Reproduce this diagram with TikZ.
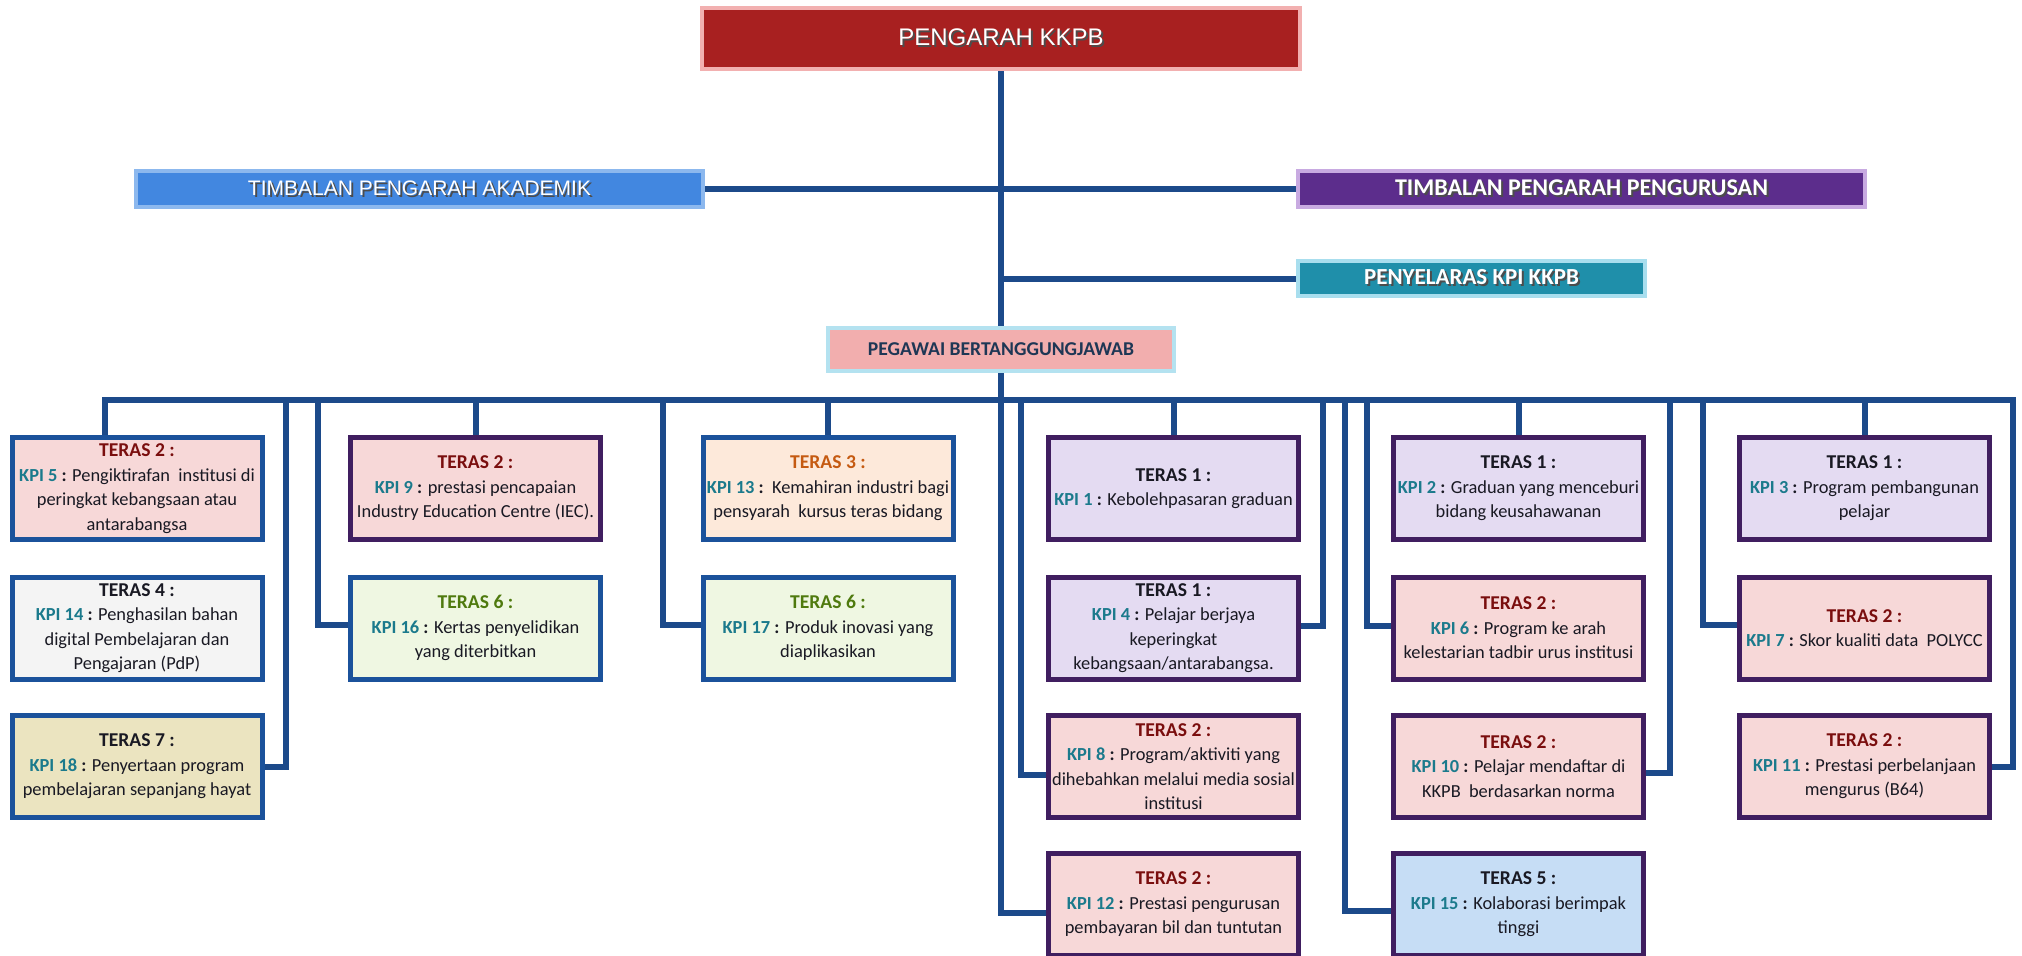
\documentclass[tikz,border=0pt]{standalone}
\usepackage{fontspec}
\setmainfont{Carlito}
\newfontfamily\arialf{Liberation Sans}
\definecolor{conn}{RGB}{28,74,138}
\definecolor{bblue}{RGB}{27,82,155}
\definecolor{bpurp}{RGB}{64,30,96}
\definecolor{fpink}{RGB}{247,216,216}
\definecolor{flav}{RGB}{228,219,242}
\definecolor{fgreen}{RGB}{239,247,226}
\definecolor{fpeach}{RGB}{253,233,218}
\definecolor{fgrey}{RGB}{244,244,244}
\definecolor{ftan}{RGB}{235,228,192}
\definecolor{fsky}{RGB}{198,221,245}
\definecolor{tred}{RGB}{122,14,14}
\definecolor{torange}{RGB}{197,90,17}
\definecolor{tgreen}{RGB}{79,122,14}
\definecolor{tteal}{RGB}{27,122,140}
\definecolor{tdark}{RGB}{25,25,35}
\definecolor{hred}{RGB}{168,32,32}
\definecolor{hredb}{RGB}{242,176,176}
\definecolor{hblue}{RGB}{66,135,224}
\definecolor{hblueb}{RGB}{140,184,238}
\definecolor{hpurp}{RGB}{92,45,140}
\definecolor{hpurpb}{RGB}{200,170,225}
\definecolor{hteal}{RGB}{31,143,170}
\definecolor{htealb}{RGB}{168,222,238}
\definecolor{hpink}{RGB}{242,174,174}
\definecolor{hpinkb}{RGB}{180,226,240}
\definecolor{hnavy}{RGB}{30,55,85}
\newcommand\shd[1]{\leavevmode\rlap{\kern1pt\raisebox{-1pt}{\color{black!70}#1}}#1}
\newcommand\ter[2]{{\bfseries\fontsize{9.8pt}{12.25pt}\selectfont\color{#1}#2}}
\newcommand\kpl[1]{{\bfseries\color{tteal}#1} {\bfseries :}}
\tikzset{
  kbox/.style={draw, line width=2.5pt, minimum width=125pt, minimum height=51pt,
    inner sep=0pt, align=center, text=tdark,
    font=\fontsize{9.2pt}{12.25pt}\selectfont},
  bluebox/.style={kbox, draw=bblue},
  purpbox/.style={kbox, draw=bpurp},
  hbox/.style={draw, line width=2pt, inner sep=0pt, align=center, text=white},
  link/.style={draw=conn, line width=3pt}
}
\begin{document}
\begin{tikzpicture}[x=0.5pt, y=-0.5pt]
\useasboundingbox[fill=white] (0,0) rectangle (2022,955);

% headers
\node[hbox, fill=hred, draw=hredb, minimum width=299pt, minimum height=30.5pt,
  font=\arialf\fontsize{12pt}{14pt}\selectfont] (pengarah) at (1001,38.5) {\shd{PENGARAH KKPB}};
\node[hbox, fill=hblue, draw=hblueb, minimum width=283.5pt, minimum height=18pt,
  font=\arialf\fontsize{10.5pt}{12pt}\selectfont] (akademik) at (419.5,189) {\shd{TIMBALAN PENGARAH AKADEMIK}};
\node[hbox, fill=hpurp, draw=hpurpb, minimum width=283.5pt, minimum height=18pt,
  font=\bfseries\fontsize{12pt}{14pt}\selectfont] (pengurusan) at (1581.5,189) {\shd{TIMBALAN PENGARAH PENGURUSAN}};
\node[hbox, fill=hteal, draw=htealb, minimum width=173.5pt, minimum height=17.5pt,
  font=\bfseries\fontsize{11.5pt}{13pt}\selectfont] (penyelaras) at (1471.5,278.5) {\shd{PENYELARAS KPI KKPB}};
\node[hbox, fill=hpink, draw=hpinkb, minimum width=173pt, minimum height=21.5pt, text=hnavy,
  font=\bfseries\fontsize{9.8pt}{12pt}\selectfont] (pegawai) at (1001,349.5) {PEGAWAI BERTANGGUNGJAWAB};

% column 1
\node[bluebox, fill=fpink] (k5) at (137,488.5) {\ter{tred}{TERAS 2 :}\\\kpl{KPI 5} Pengiktirafan\ \ institusi di\\peringkat kebangsaan atau\\antarabangsa};
\node[bluebox, fill=fgrey] (k14) at (137,628) {\ter{tdark}{TERAS 4 :}\\\kpl{KPI 14} Penghasilan bahan\\digital Pembelajaran dan\\Pengajaran (PdP)};
\node[bluebox, fill=ftan] (k18) at (137,766.5) {\ter{tdark}{TERAS 7 :}\\\kpl{KPI 18} Penyertaan program\\pembelajaran sepanjang hayat};
% column 2
\node[purpbox, fill=fpink] (k9) at (475.5,488.5) {\ter{tred}{TERAS 2 :}\\\kpl{KPI 9} prestasi pencapaian\\Industry Education Centre (IEC).};
\node[bluebox, fill=fgreen] (k16) at (475.5,628) {\ter{tgreen}{TERAS 6 :}\\\kpl{KPI 16} Kertas penyelidikan\\yang diterbitkan};
% column 3
\node[bluebox, fill=fpeach] (k13) at (828,488.5) {\ter{torange}{TERAS 3 :}\\\kpl{KPI 13}\ \ Kemahiran industri bagi\\pensyarah\ \ kursus teras bidang};
\node[bluebox, fill=fgreen] (k17) at (828,628) {\ter{tgreen}{TERAS 6 :}\\\kpl{KPI 17} Produk inovasi yang\\diaplikasikan};
% column 4
\node[purpbox, fill=flav] (k1) at (1173.5,488.5) {\ter{tdark}{TERAS 1 :}\\\kpl{KPI 1} Kebolehpasaran graduan};
\node[purpbox, fill=flav] (k4) at (1173.5,628) {\ter{tdark}{TERAS 1 :}\\\kpl{KPI 4} Pelajar berjaya\\keperingkat\\kebangsaan/antarabangsa.};
\node[purpbox, fill=fpink] (k8) at (1173.5,766.5) {\ter{tred}{TERAS 2 :}\\\kpl{KPI 8} Program/aktiviti yang\\dihebahkan melalui media sosial\\institusi};
\node[purpbox, fill=fpink] (k12) at (1173.5,904.5) {\ter{tred}{TERAS 2 :}\\\kpl{KPI 12} Prestasi pengurusan\\pembayaran bil dan tuntutan};
% column 5
\node[purpbox, fill=flav] (k2) at (1518.5,488.5) {\ter{tdark}{TERAS 1 :}\\\kpl{KPI 2} Graduan yang menceburi\\bidang keusahawanan};
\node[purpbox, fill=fpink] (k6) at (1518.5,628) {\ter{tred}{TERAS 2 :}\\\kpl{KPI 6} Program ke arah\\kelestarian tadbir urus institusi};
\node[purpbox, fill=fpink] (k10) at (1518.5,766.5) {\ter{tred}{TERAS 2 :}\\\kpl{KPI 10} Pelajar mendaftar di\\KKPB\ \ berdasarkan norma};
\node[purpbox, fill=fsky] (k15) at (1518.5,904.5) {\ter{tdark}{TERAS 5 :}\\\kpl{KPI 15} Kolaborasi berimpak\\tinggi};
% column 6
\node[purpbox, fill=flav] (k3) at (1864.5,488.5) {\ter{tdark}{TERAS 1 :}\\\kpl{KPI 3} Program pembangunan\\pelajar};
\node[purpbox, fill=fpink] (k7) at (1864.5,628) {\ter{tred}{TERAS 2 :}\\\kpl{KPI 7} Skor kualiti data\ \ POLYCC};
\node[purpbox, fill=fpink] (k11) at (1864.5,766.5) {\ter{tred}{TERAS 2 :}\\\kpl{KPI 11} Prestasi perbelanjaan\\mengurus (B64)};

% connectors
\coordinate (busL) at (105,400);
\coordinate (busR) at (2013,400);
\coordinate (t18) at (286,400);
\coordinate (t16) at (318,400);
\coordinate (t17) at (663,400);
\coordinate (t8) at (1021,400);
\coordinate (t4) at (1323,400);
\coordinate (t15) at (1345,400);
\coordinate (t6) at (1367,400);
\coordinate (t10) at (1670,400);
\coordinate (t7) at (1703,400);

\draw[link] (pengarah.south) -- (pegawai.north);
\draw[link] (akademik.east) -- (pengurusan.west);
\draw[link] (pengarah.south |- penyelaras.west) -- (penyelaras.west);
\draw[link] (pegawai.south) -- (pegawai.south |- busL);
\draw[link] (busL |- k5.north) -- (busL) -- (busR) |- (k11.east);
\draw[link] (pegawai.south |- busL) |- ([yshift=-4pt]k12.west);
\draw[link] (k9.north |- busL) -- (k9.north);
\draw[link] (k13.north |- busL) -- (k13.north);
\draw[link] (k1.north |- busL) -- (k1.north);
\draw[link] (k2.north |- busL) -- (k2.north);
\draw[link] (k3.north |- busL) -- (k3.north);
\draw[link] (t18) |- (k18.east);
\draw[link] (t16) |- ([yshift=1.5pt]k16.west);
\draw[link] (t17) |- ([yshift=1.5pt]k17.west);
\draw[link] (t8) |- ([yshift=-4pt]k8.west);
\draw[link] (t4) |- ([yshift=1pt]k4.east);
\draw[link] (t15) |- ([yshift=-3pt]k15.west);
\draw[link] (t6) |- ([yshift=1pt]k6.west);
\draw[link] (t10) |- ([yshift=-3pt]k10.east);
\draw[link] (t7) |- ([yshift=1.5pt]k7.west);
\end{tikzpicture}
\end{document}
